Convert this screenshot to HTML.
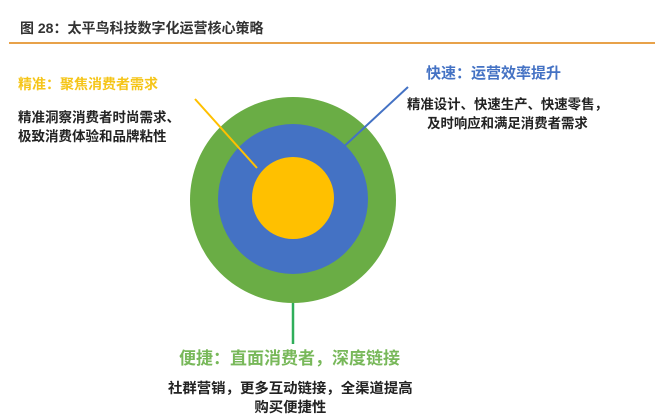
<!DOCTYPE html>
<html><head><meta charset="utf-8"><style>
body{margin:0;width:655px;height:416px;background:#fff;position:relative;overflow:hidden;font-family:"Liberation Sans","Noto Sans CJK SC",sans-serif}
.t{position:absolute;white-space:nowrap;font-weight:bold}
</style></head><body>
<div class="t" style="left:20px;top:18px;font-size:14px;color:#333">图 28：太平鸟科技数字化运营核心策略</div>
<div style="position:absolute;left:9px;top:42px;width:646px;height:2px;background:#e8a24a"></div>
<svg width="655" height="416" style="position:absolute;left:0;top:0">
<circle cx="293" cy="200" r="103" fill="#6aad45"/>
<circle cx="293" cy="199" r="75" fill="#4472c4"/>
<circle cx="293" cy="198" r="41" fill="#ffc000"/>
<line x1="195" y1="99" x2="257" y2="168" stroke="#ffc000" stroke-width="2"/>
<line x1="408" y1="87" x2="338" y2="152" stroke="#4472c4" stroke-width="2"/>
<line x1="293" y1="303" x2="293" y2="344" stroke="#2fae5a" stroke-width="2.5"/>
</svg>
<div class="t" style="left:18px;top:74px;font-size:14px;color:#f5c518">精准：聚焦消费者需求</div>
<div class="t" style="left:18px;top:108px;font-size:13.5px;color:#222;line-height:19px">精准洞察消费者时尚需求、<br>极致消费体验和品牌粘性</div>
<div class="t" style="left:426px;top:62px;font-size:15px;color:#4472c4">快速：运营效率提升</div>
<div class="t" style="left:407px;top:95px;font-size:13.4px;color:#222;line-height:19px;text-align:center">精准设计、快速生产、快速零售，<br>及时响应和满足消费者需求</div>
<div class="t" style="left:179px;top:344px;font-size:17px;color:#78b85a">便捷：直面消费者，深度链接</div>
<div class="t" style="left:168px;top:380px;font-size:14.4px;color:#222;line-height:19px;text-align:center">社群营销，更多互动链接，全渠道提高<br>购买便捷性</div>
</body></html>
